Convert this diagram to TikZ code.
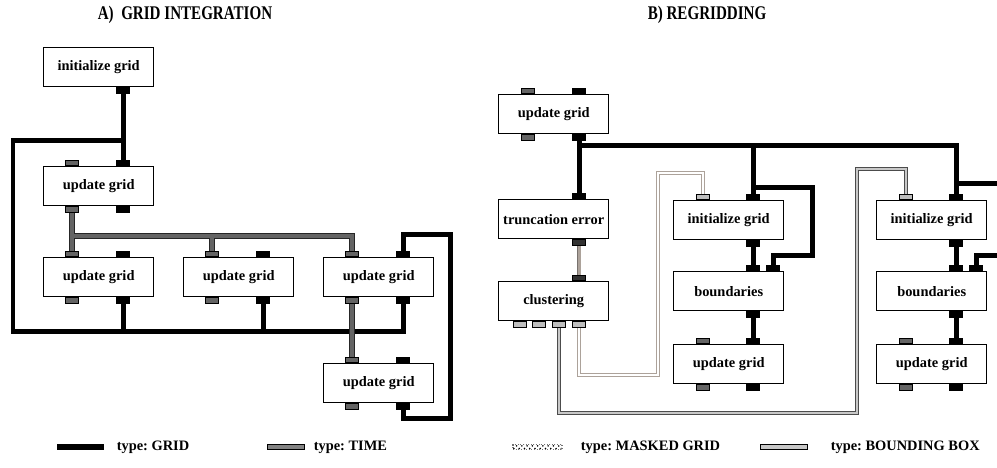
\documentclass[tikz,border=0pt]{standalone}
\usepackage{fontspec}
\setmainfont{Liberation Serif}
\frenchspacing
\usetikzlibrary{positioning,backgrounds,patterns}

\definecolor{timegray}{RGB}{100,100,100}
\definecolor{maskbrown}{RGB}{172,162,154}
\definecolor{maskline}{RGB}{120,114,110}
\definecolor{boxgray}{RGB}{200,200,200}
\definecolor{portlight}{RGB}{190,190,190}
\definecolor{portdark}{RGB}{50,50,50}

\tikzset{
    task/.style={draw, line width=0.8pt, fill=white, anchor=north west,
        minimum width=2.2cm, minimum height=0.78cm, inner sep=0pt,
        font=\bfseries\fontsize{8.2}{10}\selectfont},
    port/.style={draw, line width=0.4pt, minimum width=0.25cm,
        minimum height=0.11cm, inner sep=0pt},
    gport/.style={port, fill=black},
    tport/.style={port, fill=timegray},
    mport/.style={port, fill=portdark},
    bport/.style={port, fill=portlight},
    gridlink/.style={line width=0.1cm},
    timelink/.style={draw=black!85, line width=0.5pt, double=timegray, double distance=0.075cm},
    masklink/.style={draw=maskline, line width=0.4pt, double=maskbrown, double distance=0.06cm},
    maskwire/.style={draw=maskbrown, line width=0.6pt, double=white, double distance=0.05cm},
    bboxlink/.style={draw=black!70, line width=0.6pt, double=boxgray, double distance=0.05cm},
    legkey/.style={draw, line width=0.5pt, minimum width=#1, minimum height=0.1cm, inner sep=0pt},
    legtext/.style={font=\bfseries\fontsize{8.2}{10}\selectfont, inner sep=0pt},
    headline/.style={font=\bfseries\fontsize{11}{13}\selectfont, inner sep=0pt},
}

% Anschluesse oben / unten an einem Kasten
\newcommand\topport[4]{\node[#4, anchor=south] (#1) at ([xshift=#3*\u]#2.north west) {};}
\newcommand\botport[4]{\node[#4, anchor=north] (#1) at ([xshift=#3*\u]#2.south west) {};}

\begin{document}
\begin{tikzpicture}[x=0.02cm, y=-0.02cm]
    % Pixelraster
    \def\u{0.02cm}
    \useasboundingbox (0,0) rectangle (997,467);

    % Ueberschriften
    \node[headline] (titA) at (185,15) {\scalebox{0.78}[1]{A)\ \ GRID INTEGRATION}};
    \node[headline] (titB) at (707,15) {\scalebox{0.78}[1]{B) REGRIDDING}};

    % A) Kaesten
    \node[task] (iniA)  at (43,47)   {initialize grid};
    \node[task] (updA1) at (43,166)  {update grid};
    \node[task] (updA2) at (43,257)  {update grid};
    \node[task] (updA3) at (183,257) {update grid};
    \node[task] (updA4) at (323,257) {update grid};
    \node[task] (updA5) at (323,363) {update grid};

    \botport{iniA-gb}{iniA}{80}{gport}
    \foreach \b in {updA1,updA2,updA3,updA4,updA5} {
        \topport{\b-tt}{\b}{29}{tport}
        \topport{\b-gt}{\b}{80}{gport}
        \botport{\b-tb}{\b}{29}{tport}
        \botport{\b-gb}{\b}{80}{gport}
    }

    % B) Kaesten
    \node[task] (updB)  at (498,94)  {update grid};
    \node[task] (trunc) at (498,199) {truncation error};
    \node[task] (clust) at (498,281) {clustering\hspace{0.36cm}};

    \topport{updB-tt}{updB}{30}{tport}
    \topport{updB-gt}{updB}{81}{gport}
    \botport{updB-tb}{updB}{30}{tport}
    \botport{updB-gb}{updB}{81}{gport}
    \topport{trunc-gt}{trunc}{81}{gport}
    \botport{trunc-mb}{trunc}{81}{mport}
    \topport{clust-mt}{clust}{81}{mport}
    \foreach \p/\o in {1/22,2/41,3/61,4/81} {
        \botport{clust-p\p}{clust}{\o}{bport}
    }

    \foreach \c/\x in {1/673,2/876} {
        \node[task] (iniB\c) at (\x,200) {initialize grid};
        \node[task] (bndB\c) at (\x,271) {boundaries};
        \node[task] (updB\c) at (\x,344) {update grid};
        \topport{iniB\c-bt}{iniB\c}{30}{bport}
        \topport{iniB\c-gt}{iniB\c}{80}{gport}
        \botport{iniB\c-gb}{iniB\c}{80}{gport}
        \topport{bndB\c-gt}{bndB\c}{80}{gport}
        \topport{bndB\c-gt2}{bndB\c}{100}{gport}
        \botport{bndB\c-gb}{bndB\c}{80}{gport}
        \topport{updB\c-tt}{updB\c}{30}{tport}
        \topport{updB\c-gt}{updB\c}{80}{gport}
        \botport{updB\c-tb}{updB\c}{30}{tport}
        \botport{updB\c-gb}{updB\c}{80}{gport}
    }

    % Verbindungen
    \begin{scope}[on background layer]
        % A) GRID
        \coordinate (jA) at (iniA-gb |- 0,140);
        \coordinate (busA) at (13,331);
        \draw[gridlink] (iniA-gb) -- (updA1-gt);
        \draw[gridlink] (updA4-gb) |- (busA) |- (jA);
        \draw[gridlink] (updA2-gb) -- (updA2-gb |- busA);
        \draw[gridlink] (updA3-gb) -- (updA3-gb |- busA);
        \coordinate (rA1) at (450,418);
        \coordinate (rA2) at (450,234);
        \draw[gridlink] (updA5-gb) |- (rA1) -- (rA2) -| (updA4-gt);
        % A) TIME
        \coordinate (tA) at (0,236);
        \draw[timelink] (updA1-tb) -- (updA2-tt)
            (updA1-tb |- tA) -- (updA4-tt |- tA) -- (updA4-tt)
            (updA3-tt) -- (updA3-tt |- tA);
        \draw[timelink] (updA4-tb) -- (updA5-tt);

        % B) GRID
        \coordinate (busB) at (iniB2-gt |- 0,145);
        \draw[gridlink] (updB-gb) -- (trunc-gt);
        \draw[gridlink] (updB-gb |- busB) -- (busB) -- (iniB2-gt);
        \draw[gridlink] (iniB1-gt |- busB) -- (iniB1-gt);
        \coordinate (kB1) at (812,187);
        \coordinate (kB2) at (812,255);
        \draw[gridlink] (iniB1-gt |- kB1) -- (kB1) -- (kB2) -| (bndB1-gt2);
        \foreach \c in {1,2} {
            \draw[gridlink] (iniB\c-gb) -- (bndB\c-gt);
            \draw[gridlink] (bndB\c-gb) -- (updB\c-gt);
        }
        \coordinate (eB1) at (997,183);
        \coordinate (eB2) at (997,255);
        \draw[gridlink] (iniB2-gt |- eB1) -- (eB1);
        \draw[gridlink] (eB2) -| (bndB2-gt2);

        % B) MASKED GRID
        \draw[masklink] (trunc-mb) -- (clust-mt);
        \coordinate (mB1) at (658,375);
        \coordinate (mB2) at (658,173);
        \draw[maskwire] (clust-p4) |- (mB1) -- (mB2) -| (iniB1-bt);

        % B) BOUNDING BOX
        \coordinate (nB1) at (857,413);
        \coordinate (nB2) at (857,169);
        \draw[bboxlink] (clust-p3) |- (nB1) -- (nB2) -| (iniB2-bt);
    \end{scope}

    % Legende
    \node[legkey=0.92cm, fill=black] (kGrid) at (80,447) {};
    \node[legtext, right=0.26cm of kGrid] (lGrid) {type: GRID};
    \node[legkey=0.74cm, fill=timegray!80] (kTime) at (285.5,447) {};
    \node[legtext, right=0.18cm of kTime] (lTime) {type: TIME};
    \node[legkey=0.98cm, draw=black!55, densely dotted, line width=0.6pt,
        pattern=crosshatch dots, pattern color=black] (kMask) at (537.5,447) {};
    \node[legtext, right=0.36cm of kMask] (lMask) {type: MASKED GRID};
    \node[legkey=0.94cm, fill=boxgray] (kBox) at (783.5,447) {};
    \node[legtext, right=0.46cm of kBox] (lBox) {type: BOUNDING BOX};
\end{tikzpicture}
\end{document}
